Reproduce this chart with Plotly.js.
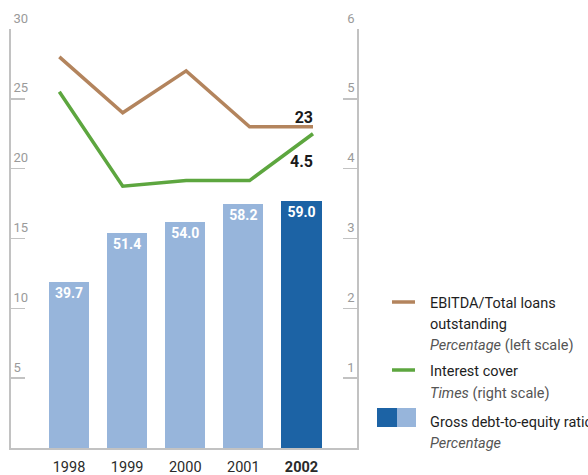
<!DOCTYPE html>
<html>
<head>
<meta charset="utf-8">
<script src="https://cdn.plot.ly/plotly-3.0.1.min.js"></script>
<style>html,body{margin:0;padding:0;background:#fff}#chart{width:588px;height:475px}</style>
</head>
<body>
<div id="chart"></div>
<script>
const years = ['1998', '1999', '2000', '2001', '2002'];
const yearLabels = ['1998', '1999', '2000', '2001', '<b>2002</b>'];
const debtToEquity = [39.7, 51.4, 54.0, 58.2, 59.0];
const ebitdaLoans = [28, 24, 27, 23, 23];
const interestCover = [5.1, 3.75, 3.83, 3.83, 4.5];
const leftTicks = [5, 10, 15, 20, 25, 30];
const rightTicks = [1, 2, 3, 4, 5, 6];

const FAM = 'Roboto, "DejaVu Sans", sans-serif';
const F = (size, color) => ({family: FAM, size: size, color: color});
const LIGHT = '#97b5db', DARK = '#1c63a5', BROWN = '#b3845d', GREEN = '#5da63f', AXIS = '#c2c2c2', TICKTXT = '#9a9a9a';

const barColors = years.map((y, i) => i === years.length - 1 ? DARK : LIGHT);

const traces = [
  {
    type: 'scatter', mode: 'lines+text', x: years, y: ebitdaLoans, xaxis: 'x', yaxis: 'y',
    line: {color: BROWN, width: 3.5},
    text: ebitdaLoans.map((v, i) => i === ebitdaLoans.length - 1 ? '<b>' + v + '</b>' : ''),
    textposition: 'top left', textfont: F(16, '#1a1a1a'),
    showlegend: false, cliponaxis: false
  },
  {
    type: 'scatter', mode: 'lines+text', x: years, y: interestCover, xaxis: 'x', yaxis: 'y2',
    line: {color: GREEN, width: 3.5},
    text: interestCover.map((v, i) => i === interestCover.length - 1 ? '<br><b>' + v.toFixed(1) + '</b>' : ''),
    textposition: 'bottom left', textfont: F(16, '#1a1a1a'),
    showlegend: false, cliponaxis: false
  },
  {
    type: 'bar', x: years, y: debtToEquity, xaxis: 'x2', yaxis: 'y3',
    marker: {color: barColors}, width: 0.69,
    text: debtToEquity.map(v => '<b>' + v.toFixed(1) + '</b>'), textposition: 'inside', insidetextanchor: 'end',
    textfont: F(14, '#ffffff'), textangle: 0,
    hoverinfo: 'skip', showlegend: false
  }
];

function px(x) { return (x - 11) / 346; }
function py(y) { return (448 - y) / 419; }

const shapes = [
  {type: 'line', xref: 'paper', yref: 'paper', x0: px(392), x1: px(415), y0: py(302), y1: py(302), line: {color: BROWN, width: 3.5}},
  {type: 'line', xref: 'paper', yref: 'paper', x0: px(392), x1: px(415), y0: py(370), y1: py(370), line: {color: GREEN, width: 3.5}},
  {type: 'rect', xref: 'paper', yref: 'paper', x0: px(377), x1: px(397), y0: py(427), y1: py(408), line: {width: 0}, fillcolor: DARK},
  {type: 'rect', xref: 'paper', yref: 'paper', x0: px(397), x1: px(416), y0: py(427), y1: py(408), line: {width: 0}, fillcolor: LIGHT}
];

const legendLines = [
  ['EBITDA/Total loans', 303],
  ['outstanding', 324],
  ['<i>Percentage</i> (left scale)', 345, true],
  ['Interest cover', 371],
  ['<i>Times</i> (right scale)', 393, true],
  ['Gross debt-to-equity ratio', 422],
  ['<i>Percentage</i>', 443, true]
];
const annotations = legendLines.map(([t, y, sub]) => ({
  xref: 'paper', yref: 'paper', x: px(428), y: py(y), xanchor: 'left', yanchor: 'middle',
  text: t, showarrow: false,
  font: F(14.5, sub ? '#555555' : '#1e1e1e')
}));

const layout = {
  width: 588, height: 475,
  margin: {l: 11, r: 231, t: 29, b: 27, pad: 0},
  paper_bgcolor: '#ffffff', plot_bgcolor: '#ffffff',
  showlegend: false,
  font: {family: FAM},
  xaxis: {
    type: 'category', range: [-0.762, 4.694], anchor: 'y',
    showline: true, linecolor: AXIS, linewidth: 2, ticks: '', showticklabels: false,
    showgrid: false, zeroline: false, fixedrange: true
  },
  xaxis2: {
    type: 'category', overlaying: 'x', anchor: 'y3', side: 'bottom', range: [-0.998, 4.955],
    tickvals: years, ticktext: yearLabels, showline: false, ticks: '', showgrid: false, zeroline: false,
    tickfont: F(14.5, '#2a2a2a'), ticklabelstandoff: 8, fixedrange: true
  },
  yaxis: {
    range: [0, 30], tickvals: leftTicks, side: 'left', anchor: 'x',
    showline: true, linecolor: AXIS, linewidth: 2, ticks: 'inside', ticklen: 14, tickcolor: AXIS, tickwidth: 1.5,
    ticklabelposition: 'inside', ticklabelshift: -11, ticklabelstandoff: -12, ticklabeloverflow: 'allow',
    showgrid: false, zeroline: false, tickfont: F(13, TICKTXT)
  },
  yaxis2: {
    range: [0, 6], tickvals: rightTicks, side: 'right', overlaying: 'y', anchor: 'x',
    showline: true, linecolor: AXIS, linewidth: 2, ticks: 'inside', ticklen: 14, tickcolor: AXIS, tickwidth: 1.5,
    ticklabelposition: 'inside', ticklabelshift: -11, ticklabelstandoff: -12, ticklabeloverflow: 'allow',
    showgrid: false, zeroline: false, tickfont: F(13, TICKTXT)
  },
  yaxis3: {range: [0, 100], overlaying: 'y', anchor: 'x2', visible: false},
  shapes: shapes,
  annotations: annotations,
  bargap: 0
};

Plotly.newPlot('chart', traces, layout, {displayModeBar: false, staticPlot: true});
</script>
</body>
</html>
